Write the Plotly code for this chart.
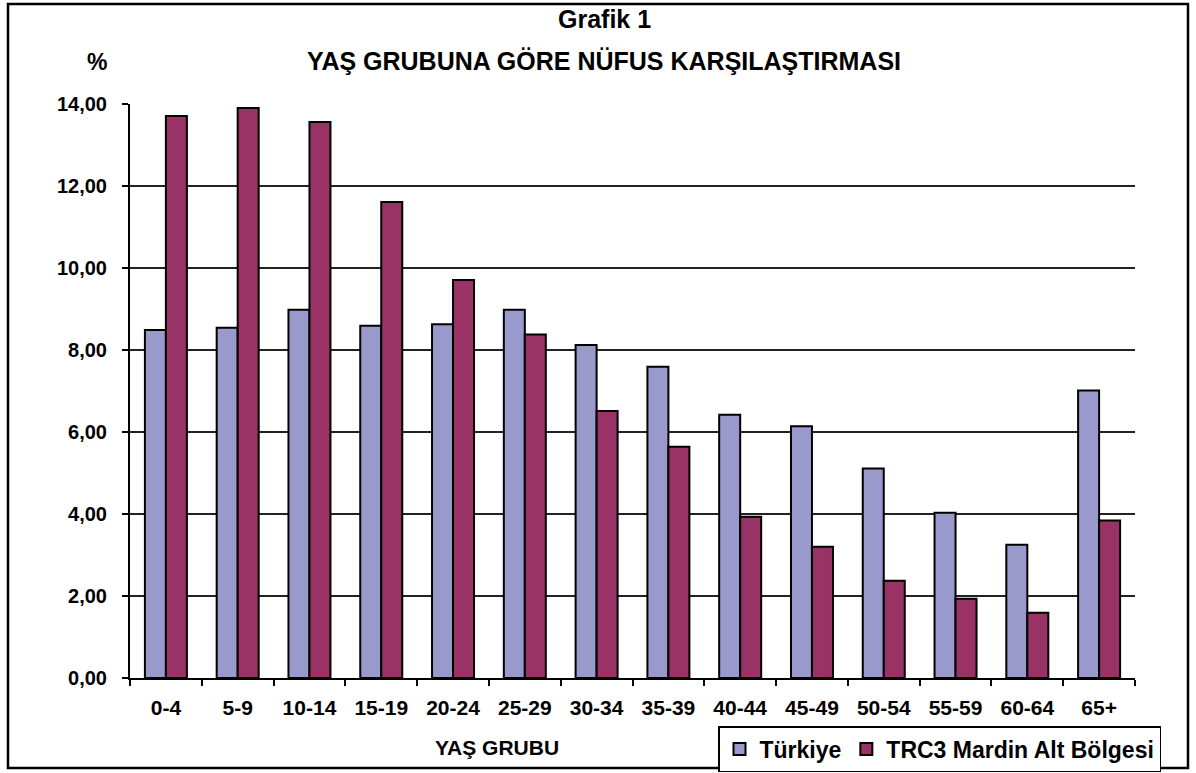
import plotly.graph_objects as go

categories = ["0-4", "5-9", "10-14", "15-19", "20-24", "25-29", "30-34",
              "35-39", "40-44", "45-49", "50-54", "55-59", "60-64", "65+"]
turkiye = [8.49, 8.54, 8.98, 8.59, 8.63, 8.98, 8.12, 7.59, 6.42, 6.14, 5.11, 4.03, 3.25, 7.01]
mardin = [13.71, 13.90, 13.56, 11.61, 9.71, 8.38, 6.51, 5.64, 3.93, 3.20, 2.37, 1.93, 1.59, 3.84]
y_ticks = [0, 2, 4, 6, 8, 10, 12, 14]

W, H = 1196, 773
L, R, T, B = 130, 1135, 104, 678  # plot area in px


def px(x):
    return (x - L) / (R - L)


def py(y):
    return (B - y) / (B - T)


FONT = "Liberation Sans, Arial, sans-serif"

fig = go.Figure()
fig.add_trace(go.Bar(x=categories, y=turkiye, name="Türkiye",
                     marker=dict(color="#9999CC", line=dict(color="black", width=2))))
fig.add_trace(go.Bar(x=categories, y=mardin, name="TRC3 Mardin Alt Bölgesi",
                     marker=dict(color="#993366", line=dict(color="black", width=2))))

fig.update_layout(
    width=W, height=H,
    margin=dict(l=L, r=W - R, t=T, b=H - B, pad=0, autoexpand=False),
    paper_bgcolor="white", plot_bgcolor="white",
    separators=",.",
    barmode="group", bargap=0.415, bargroupgap=0,
    font=dict(family=FONT, color="black", size=20),
    showlegend=True,
    legend=dict(orientation="h", x=px(718), y=py(726), xanchor="left", yanchor="top",
                bordercolor="black", borderwidth=1.5, bgcolor="white",
                font=dict(family=FONT, size=23, color="black", weight="bold"),
                itemsizing="constant", traceorder="normal"),
    xaxis=dict(type="category", showgrid=False, showline=True, linecolor="black", linewidth=2,
               ticks="outside", tickson="boundaries", ticklen=6, tickwidth=1.5, tickcolor="black",
               tickfont=dict(family=FONT, size=21, color="black", weight="bold"),
               ticklabelstandoff=10, automargin=False),
    yaxis=dict(range=[0, 14], tickvals=y_ticks, tickformat=".2f", showgrid=True,
               gridcolor="#222222", gridwidth=1.5, showline=True, linecolor="black", linewidth=2,
               ticks="outside", ticklen=6, tickwidth=1.5, tickcolor="black",
               tickfont=dict(family=FONT, size=20, color="black", weight="bold"),
               ticklabelstandoff=11, zeroline=False, automargin=False),
    annotations=[
        dict(text="Grafik 1", x=px(604), y=py(19), xref="paper", yref="paper",
             xanchor="center", yanchor="middle", showarrow=False,
             font=dict(family=FONT, size=25, color="black", weight="bold")),
        dict(text="YAŞ GRUBUNA GÖRE NÜFUS KARŞILAŞTIRMASI", x=px(604), y=py(61),
             xref="paper", yref="paper", xanchor="center", yanchor="middle", showarrow=False,
             font=dict(family=FONT, size=25, color="black", weight="bold")),
        dict(text="%", x=px(97), y=py(62), xref="paper", yref="paper",
             xanchor="center", yanchor="middle", showarrow=False,
             font=dict(family=FONT, size=23, color="black", weight="bold")),
        dict(text="YAŞ GRUBU", x=px(497), y=py(747), xref="paper", yref="paper",
             xanchor="center", yanchor="middle", showarrow=False,
             font=dict(family=FONT, size=21, color="black", weight="bold")),
    ],
    shapes=[
        dict(type="rect", xref="paper", yref="paper",
             x0=px(8), x1=px(1188), y0=py(768), y1=py(4),
             line=dict(color="black", width=2.5), fillcolor="rgba(0,0,0,0)", layer="above"),
    ],
)

fig.write_html("out.html", config={"displayModeBar": False},
               post_script="document.body.style.margin='0';document.body.style.overflow='hidden';")
